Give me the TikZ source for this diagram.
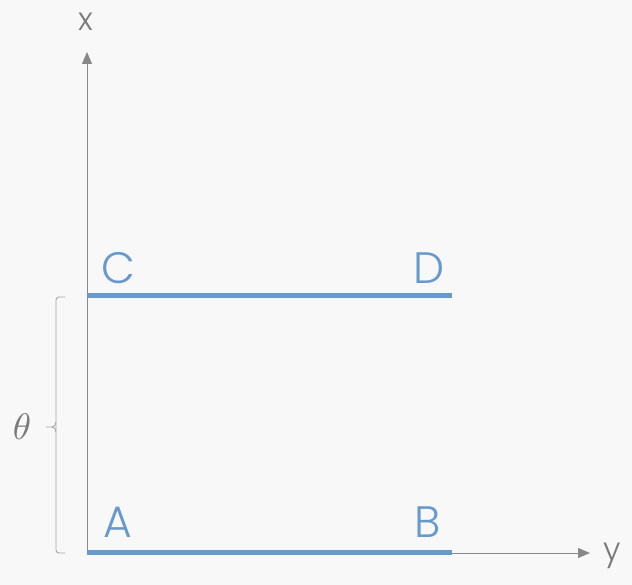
\documentclass[tikz,border=0pt]{standalone}
\usepackage{fontspec}
\setmainfont{Poppins}[UprightFont={* Light}]
\usetikzlibrary{arrows.meta}
\definecolor{bg}{HTML}{F8F8F8}
\definecolor{axisgray}{HTML}{888888}
\definecolor{bracegray}{HTML}{A8A8A8}
\definecolor{labgray}{HTML}{7A7A7A}
\definecolor{segblue}{HTML}{6699CC}
\tikzset{
  axis/.style={draw=axisgray,line width=0.9pt,-{Triangle[length=12pt,width=10pt]}},
  seg/.style={draw=segblue,line width=5pt},
  seglab/.style={text=segblue,font=\fontsize{44}{48}\selectfont,inner sep=0pt},
  axlab/.style={text=labgray,font=\fontsize{32}{36}\selectfont,inner sep=0pt},
  bracestyle/.style={draw=bracegray,line width=0.9pt}
}
\begin{document}
\begin{tikzpicture}[x=1pt,y=1pt]
\fill[bg] (0,0) rectangle (632,585);
\useasboundingbox (0,0) rectangle (632,585);
\coordinate (O) at (87,32);
\coordinate (XT) at (87,533);
\coordinate (YT) at (590,32);
\coordinate (A) at (87,32);
\coordinate (B) at (452,32);
\coordinate (C) at (87,289);
\coordinate (D) at (452,289);
\coordinate (BrB) at (65,32);
\coordinate (BrT) at (65,288);
\coordinate (BrTip) at (46,158);
\draw[axis] (O) -- (XT);
\draw[axis] (O) -- (YT);
\draw[seg] (A) -- (B);
\draw[seg] (C) -- (D);
\draw[bracestyle,rounded corners=3pt] (BrT) -- (56,288) -- (56,32) -- (BrB);
\draw[bracestyle] (56,163) to[out=-90,in=0] (52,158) -- (BrTip);
\draw[bracestyle] (56,153) to[out=90,in=0] (52,158);
\node[axlab] (xl) at (86,563) {x};
\node[axlab] (yl) at (612,29) {y};
\node[seglab] (la) at (118,63) {A};
\node[seglab] (lb) at (428,63) {B};
\node[seglab] (lc) at (118,317) {C};
\node[seglab] (ld) at (429,317) {D};
\node[text=labgray,scale=3.7,inner sep=0pt] (th) at (22,158) {$\theta$};
\end{tikzpicture}
\end{document}
